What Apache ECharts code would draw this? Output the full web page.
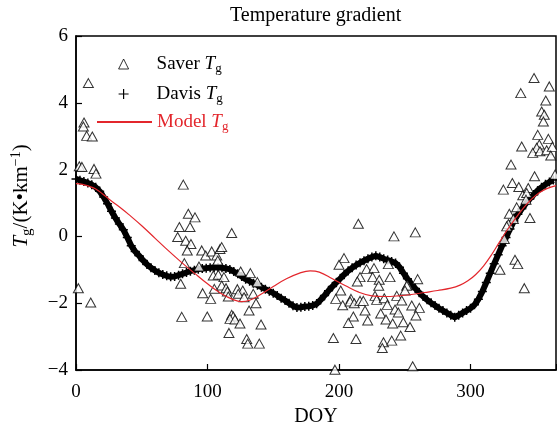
<!DOCTYPE html>
<html>
<head>
<meta charset="utf-8">
<script src="https://cdn.jsdelivr.net/npm/echarts@6/dist/echarts.min.js"></script>
<style>
html,body{margin:0;padding:0;background:#fff}
#chart{width:557px;height:427px}
</style>
</head>
<body>
<div id="chart"></div>
<script>
// Saver Tg (triangles) - DOY / value
var saverDoy = [9.4,6.1,5.6,8.1,12.4,2.5,4.5,13.7,15.2,1.8,11.2,
  81.6,85.4,90.5,78.6,86.7,77.3,83.4,87.4,84.6,95.6,98.6,103.2,107,109.5,110.8,107.8,118.4,82.4,93.5,125.2,132.6,79.6,104.4,108.2,112.5,
  137.9,96.3,105.2,110.8,114.1,115.1,115.8,102.4,122.7,126.8,123.4,127.8,134.8,136.9,131.6,80.4,99.8,118.4,119.6,117.1,120.9,124.7,140.7,116.3,129.8,130.6,139.4,
  195.7,212.9,233.8,232.9,240.1,246.9,196.9,256,
  214.7,241.8,258,203.8,200,221,226.6,237.5,216,225.6,230.6,238.8,213.9,259.8,252,230.2,251.5,250.2,201.3,197.5,209.1,202.8,208.4,211.6,216,218.5,227.4,228.6,234.4,236.7,243.9,247.7,255.3,261.1,219.8,242.6,245.1,231.7,258.5,210.9,207.1,221.8,235.7,240.8,248.9,254,
  348.3,338.2,359.9,357.2,354.1,356.1,355.4,351.1,359.2,338.9,352.3,350.3,347.3,352.8,357.9,362.2,361,330.8,348.7,364.3,331.8,325,336.7,343.9,339.7,342.7,342.2,335.1,329.5,332.6,328.8,327.5,345.2,325.7,333.8,335.9,322.4,340.9];
var saverVal = [4.59,3.41,3.29,3.01,2.99,2.10,2.08,2.02,1.88,-1.55,-1.98,
  1.55,0.68,0.57,0.28,0.28,-0.02,-0.13,-0.23,-0.42,-0.42,-0.57,-0.45,-0.57,-0.38,-0.32,-0.72,0.10,-0.80,-0.90,-1.05,-1.10,-1.42,-1.17,-1.15,-1.22,
  -1.37,-1.70,-1.57,-1.47,-1.55,-1.65,-1.80,-1.87,-1.58,-1.62,-1.72,-1.82,-1.72,-2.00,-2.22,-2.41,-2.40,-2.35,-2.40,-2.47,-2.49,-2.61,-2.64,-2.89,-3.07,-3.21,-3.21,
  -3.04,-3.07,-3.17,-3.34,-3.12,-2.97,-3.99,-3.89,
  0.38,0.00,0.12,-0.65,-0.85,-0.98,-0.95,-0.83,-1.22,-1.22,-1.30,-1.22,-1.35,-1.28,-1.45,-1.48,-1.48,-1.62,-1.62,-1.87,-1.87,-2.06,-1.95,-2.00,-1.93,-1.93,-1.78,-1.90,-1.85,-2.05,-1.78,-1.92,-2.07,-2.14,-2.22,-2.19,-2.28,-2.31,-2.37,-2.40,-2.59,-2.52,-2.49,-2.61,-2.57,-2.71,
  4.74,4.29,4.49,4.07,3.74,3.64,3.44,3.04,2.92,2.69,2.75,2.65,2.50,2.55,2.58,2.68,2.42,2.15,1.80,1.85,1.60,1.40,1.48,1.45,1.23,1.30,1.10,0.87,0.68,0.52,0.37,0.30,0.55,-0.08,-0.70,-0.83,-1.00,-1.55];

// Davis Tg (crosses), every 3 days
var davisDoy = [0,3,6,9,12,15,18,21,24,27,30,33,36,39,42,45,48,51,54,57,60,63,66,69,72,75,78,81,84,87,90,93,96,99,102,105,108,111,114,117,120,123,126,129,132,135,138,141,144,147,150,153,156,159,162,165,168,171,174,177,180,183,186,189,192,195,198,201,204,207,210,213,216,219,222,225,228,231,234,237,240,243,246,249,252,255,258,261,264,267,270,273,276,279,282,285,288,291,294,297,300,303,306,309,312,315,318,321,324,327,330,333,336,339,342,345,348,351,354,357,360,363];
var davisVal = [1.72,1.68,1.64,1.60,1.55,1.47,1.35,1.18,0.98,0.75,0.55,0.37,0.20,-0.03,-0.28,-0.45,-0.58,-0.72,-0.84,-0.94,-1.02,-1.09,-1.14,-1.18,-1.21,-1.20,-1.16,-1.12,-1.08,-1.04,-1.01,-0.98,-0.96,-0.95,-0.94,-0.93,-0.93,-0.94,-0.96,-0.99,-1.05,-1.12,-1.20,-1.28,-1.34,-1.40,-1.46,-1.52,-1.58,-1.64,-1.70,-1.77,-1.85,-1.92,-2.00,-2.08,-2.13,-2.12,-2.10,-2.09,-2.07,-2.02,-1.90,-1.77,-1.63,-1.50,-1.38,-1.26,-1.14,-1.03,-0.94,-0.86,-0.79,-0.73,-0.67,-0.62,-0.58,-0.62,-0.67,-0.71,-0.75,-0.80,-0.92,-1.10,-1.27,-1.42,-1.56,-1.68,-1.80,-1.90,-1.99,-2.07,-2.15,-2.22,-2.29,-2.36,-2.42,-2.36,-2.29,-2.22,-2.15,-2.05,-1.88,-1.65,-1.38,-1.10,-0.82,-0.55,-0.28,-0.03,0.22,0.46,0.66,0.83,0.98,1.12,1.25,1.37,1.47,1.56,1.63,1.69];

// Model Tg (red line)
var modelDoy = [0,5,10,15,20,25,30,35,40,50,60,70,80,90,100,110,120,126,132,140,150,160,170,178,185,195,205,215,225,235,245,255,265,275,285,292,298,304,310,316,322,328,334,340,346,352,358,365];
var modelVal = [1.58,1.56,1.50,1.42,1.28,1.12,0.97,0.82,0.66,0.32,-0.05,-0.42,-0.77,-1.10,-1.42,-1.70,-1.90,-1.95,-1.91,-1.75,-1.50,-1.27,-1.10,-1.03,-1.07,-1.27,-1.48,-1.67,-1.78,-1.80,-1.78,-1.74,-1.68,-1.62,-1.55,-1.46,-1.33,-1.14,-0.88,-0.55,-0.17,0.20,0.53,0.84,1.10,1.30,1.43,1.52];

var xTicks = [0, 100, 200, 300];
var yTicks = [-4, -2, 0, 2, 4, 6];

function pairs(xs, ys) {
  return xs.map(function (x, i) { return [x, ys[i]]; });
}

var serif = "'Liberation Serif', 'Times New Roman', serif";
var red = '#e3262c';
var plusPath = 'path://M0,5L10,5M5,0L5,10';
var legendRich = {
  n: { fontFamily: serif, fontSize: 19 },
  m: { fontFamily: serif, fontSize: 19, padding: [0, 0, 0, 23] },
  i: { fontFamily: serif, fontSize: 19, fontStyle: 'italic' },
  s: { fontFamily: serif, fontSize: 13, lineHeight: 13, padding: [10, 0, 0, 0] }
};
var nameRich = {
  n: { fontFamily: serif, fontSize: 21 },
  i: { fontFamily: serif, fontSize: 21, fontStyle: 'italic' },
  s: { fontFamily: serif, fontSize: 15, lineHeight: 15, padding: [11, 0, 0, 0] },
  p: { fontFamily: serif, fontSize: 14, lineHeight: 14, padding: [0, 0, 11, 0] }
};

var chart = echarts.init(document.getElementById('chart'));
var option = {
  animation: false,
  backgroundColor: '#fff',
  title: {
    text: 'Temperature gradient',
    left: 225,
    top: 1,
    textStyle: { fontFamily: serif, fontSize: 20, fontWeight: 'normal', color: '#000' }
  },
  legend: [
    {
      // symbol entries (triangle, cross)
      orient: 'vertical',
      left: 113,
      top: 44,
      itemWidth: 10,
      itemHeight: 10,
      itemGap: 0,
      data: [
        { name: 'Saver', itemStyle: { color: '#fff', borderColor: '#000', borderWidth: 1 } },
        { name: 'Davis', icon: plusPath, itemStyle: { color: 'rgba(0,0,0,0)', borderColor: '#000', borderWidth: 1.2 } }
      ],
      formatter: function (name) {
        return '{m|' + name + ' }{i|T}{s|g}';
      },
      textStyle: { color: '#000', lineHeight: 30, rich: legendRich }
    },
    {
      // line entry
      orient: 'vertical',
      left: 91,
      top: 102,
      itemWidth: 55,
      itemHeight: 10,
      data: [{ name: 'Model', itemStyle: { opacity: 0 }, textStyle: { color: red } }],
      formatter: function (name) {
        return '{n|' + name + ' }{i|T}{s|g}';
      },
      textStyle: { color: red, lineHeight: 30, rich: legendRich }
    }
  ],
  grid: {
    left: 76, right: 1, top: 36, bottom: 57,
    outerBoundsMode: 'none',
    containLabel: false,
    show: true, borderColor: '#000', borderWidth: 1.5
  },
  xAxis: {
    type: 'value',
    min: 0, max: 365, interval: 100,
    name: 'DOY',
    nameLocation: 'middle',
    nameGap: 30,
    nameTextStyle: { fontFamily: serif, fontSize: 20, color: '#000' },
    axisLine: { onZero: false, lineStyle: { color: '#000', width: 1.5 } },
    axisTick: { inside: true, length: 6, lineStyle: { color: '#000', width: 1.2 } },
    axisLabel: {
      margin: 13, fontFamily: serif, fontSize: 19, color: '#000',
      formatter: function (v) { return xTicks.indexOf(v) >= 0 ? String(v) : ''; }
    },
    splitLine: { show: false }
  },
  yAxis: {
    type: 'value',
    min: -4, max: 6, interval: 2,
    name: '{i|T}{s|g}{n|/(K•km}{p|−1}{n|)}',
    nameLocation: 'middle',
    nameRotate: 90,
    nameGap: 44,
    nameTextStyle: { color: '#000', rich: nameRich, padding: [0, 0, 0, 14] },
    axisLine: { onZero: false, lineStyle: { color: '#000', width: 1.5 } },
    axisTick: { inside: true, length: 6, lineStyle: { color: '#000', width: 1.2 } },
    axisLabel: {
      margin: 8, fontFamily: serif, fontSize: 19, color: '#000',
      formatter: function (v) {
        if (yTicks.indexOf(v) < 0) return '';
        return v < 0 ? '\u2212' + Math.abs(v) : String(v);
      }
    },
    splitLine: { show: false }
  },
  series: [
    {
      name: 'Davis',
      type: 'line',
      data: pairs(davisDoy, davisVal),
      symbol: plusPath,
      symbolSize: 9,
      showAllSymbol: true,
      lineStyle: { color: '#000', width: 6 },
      itemStyle: { color: 'rgba(0,0,0,0)', borderColor: '#000', borderWidth: 1.5 },
      z: 2
    },
    {
      name: 'Saver',
      type: 'scatter',
      data: pairs(saverDoy, saverVal),
      symbol: 'triangle',
      symbolSize: [10, 9],
      itemStyle: { color: '#fff', borderColor: '#000', borderWidth: 1 },
      z: 3
    },
    {
      name: 'Model',
      type: 'line',
      data: pairs(modelDoy, modelVal),
      smooth: 0.4,
      symbol: 'none',
      lineStyle: { color: red, width: 1.2 },
      itemStyle: { color: red },
      z: 4
    }
  ]
};
chart.setOption(option);
</script>
</body>
</html>
